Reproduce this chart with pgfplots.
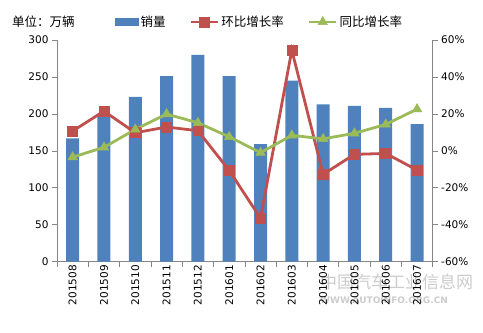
\documentclass[border=0pt]{standalone}
\usepackage{pgfplots}
\pgfplotsset{compat=1.18}
\usepackage{pgfplotstable}
\usepackage{fontspec}
\setmainfont{DejaVu Sans}
\newfontfamily\cjk{Noto Sans CJK SC}
\definecolor{barblue}{HTML}{4F81BD}
\definecolor{lred}{HTML}{C0504D}
\definecolor{lgreen}{HTML}{9BBB59}
\definecolor{axgray}{HTML}{868686}
\pgfplotsset{
  linelegend/.style={legend image code/.code={\draw[mark repeat=2,mark phase=2,##1] plot coordinates {(0bp,0bp)(13.5bp,0bp)(27bp,0bp)};}},
  barlegend/.style={legend image code/.code={\fill[barblue] (0bp,-3.5bp) rectangle (23bp,3.5bp);}},
}

\pgfplotstableread{
x sales mom yoy
0 167 10.7 -3.4
1 200 21.5 1.9
2 223 9.8 11.6
3 251 12.9 19.9
4 280 10.9 15.2
5 251 -10.6 7.6
6 159 -36.5 -1.0
7 245 54.5 8.4
8 213 -12.7 6.5
9 211 -1.9 9.5
10 208 -1.4 14.3
11 186 -10.4 22.6
}\data

\begin{document}
\begin{tikzpicture}[x=1bp,y=1bp]
\useasboundingbox (0,0) rectangle (483,332);
\pgfplotsset{
  common/.style={
    at={(57bp,70.3bp)}, anchor=south west,
    scale only axis, width=375.7bp, height=221.7bp,
    xmin=-0.5, xmax=11.5,
    tick align=outside, major tick length=5bp,
    axis line style={axgray, line width=0.7bp}, tick style={axgray, line width=0.7bp},
    ticklabel style={font=\fontsize{10.5bp}{12bp}\selectfont, text=black},
    /pgf/number format/assume math mode=true,
  }
}
\node[font=\fontsize{17bp}{18bp}\selectfont\cjk, text=black!20, anchor=west, inner sep=0pt] at (320,50) {中国汽车工业信息网};
\node[font=\fontsize{9bp}{10bp}\selectfont\bfseries, text=black!20, anchor=west, inner sep=0pt] at (320,31.5) {WWW.AUTOINFO.ORG.CN};
\begin{axis}[common, axis y line*=left, axis x line*=bottom,
  ymin=0, ymax=300, ytick={0,50,...,300},
  xtick={-0.5,0.5,...,11.5}, xticklabels={},
  extra x ticks={0,...,11},
  extra x tick labels={201508,201509,201510,201511,201512,201601,201602,201603,201604,201605,201606,201607},
  extra x tick style={major tick length=0pt, tick label style={rotate=90, anchor=east}},
]
\addplot[ybar, bar width=13bp, fill=barblue, draw=none] table[x=x,y=sales]{\data};
\end{axis}
\begin{axis}[common, axis y line*=right, hide x axis,
  ymin=-60, ymax=60, ytick={-60,-40,...,60},
  yticklabel={\pgfmathprintnumber{\tick}\%},
  legend columns=3,
  legend style={draw=none, fill=none, inner sep=0pt, at={(0.1544,1.0812)}, anchor=west,
    font=\fontsize{12.5bp}{14bp}\selectfont\cjk,
    /tikz/every odd column/.append style={column sep=0bp},
    /tikz/every even column/.append style={column sep=22bp}},
]
\addlegendimage{barlegend}
\addlegendentry{销量}
\addplot[lred, line width=2.8bp, mark=square*, mark size=5bp, mark options={line width=0.5bp}, linelegend]
  table[x=x,y=mom]{\data};
\addlegendentry{环比增长率}
\addplot[lgreen, line width=2.8bp, mark=triangle*, mark size=5.5bp, mark options={line width=0.5bp}, linelegend]
  table[x=x,y=yoy]{\data};
\addlegendentry{同比增长率}
\end{axis}
\node[font=\fontsize{12.5bp}{14bp}\selectfont\cjk, anchor=west, inner sep=0pt] at (12,310) {单位：万辆};
\end{tikzpicture}
\end{document}
